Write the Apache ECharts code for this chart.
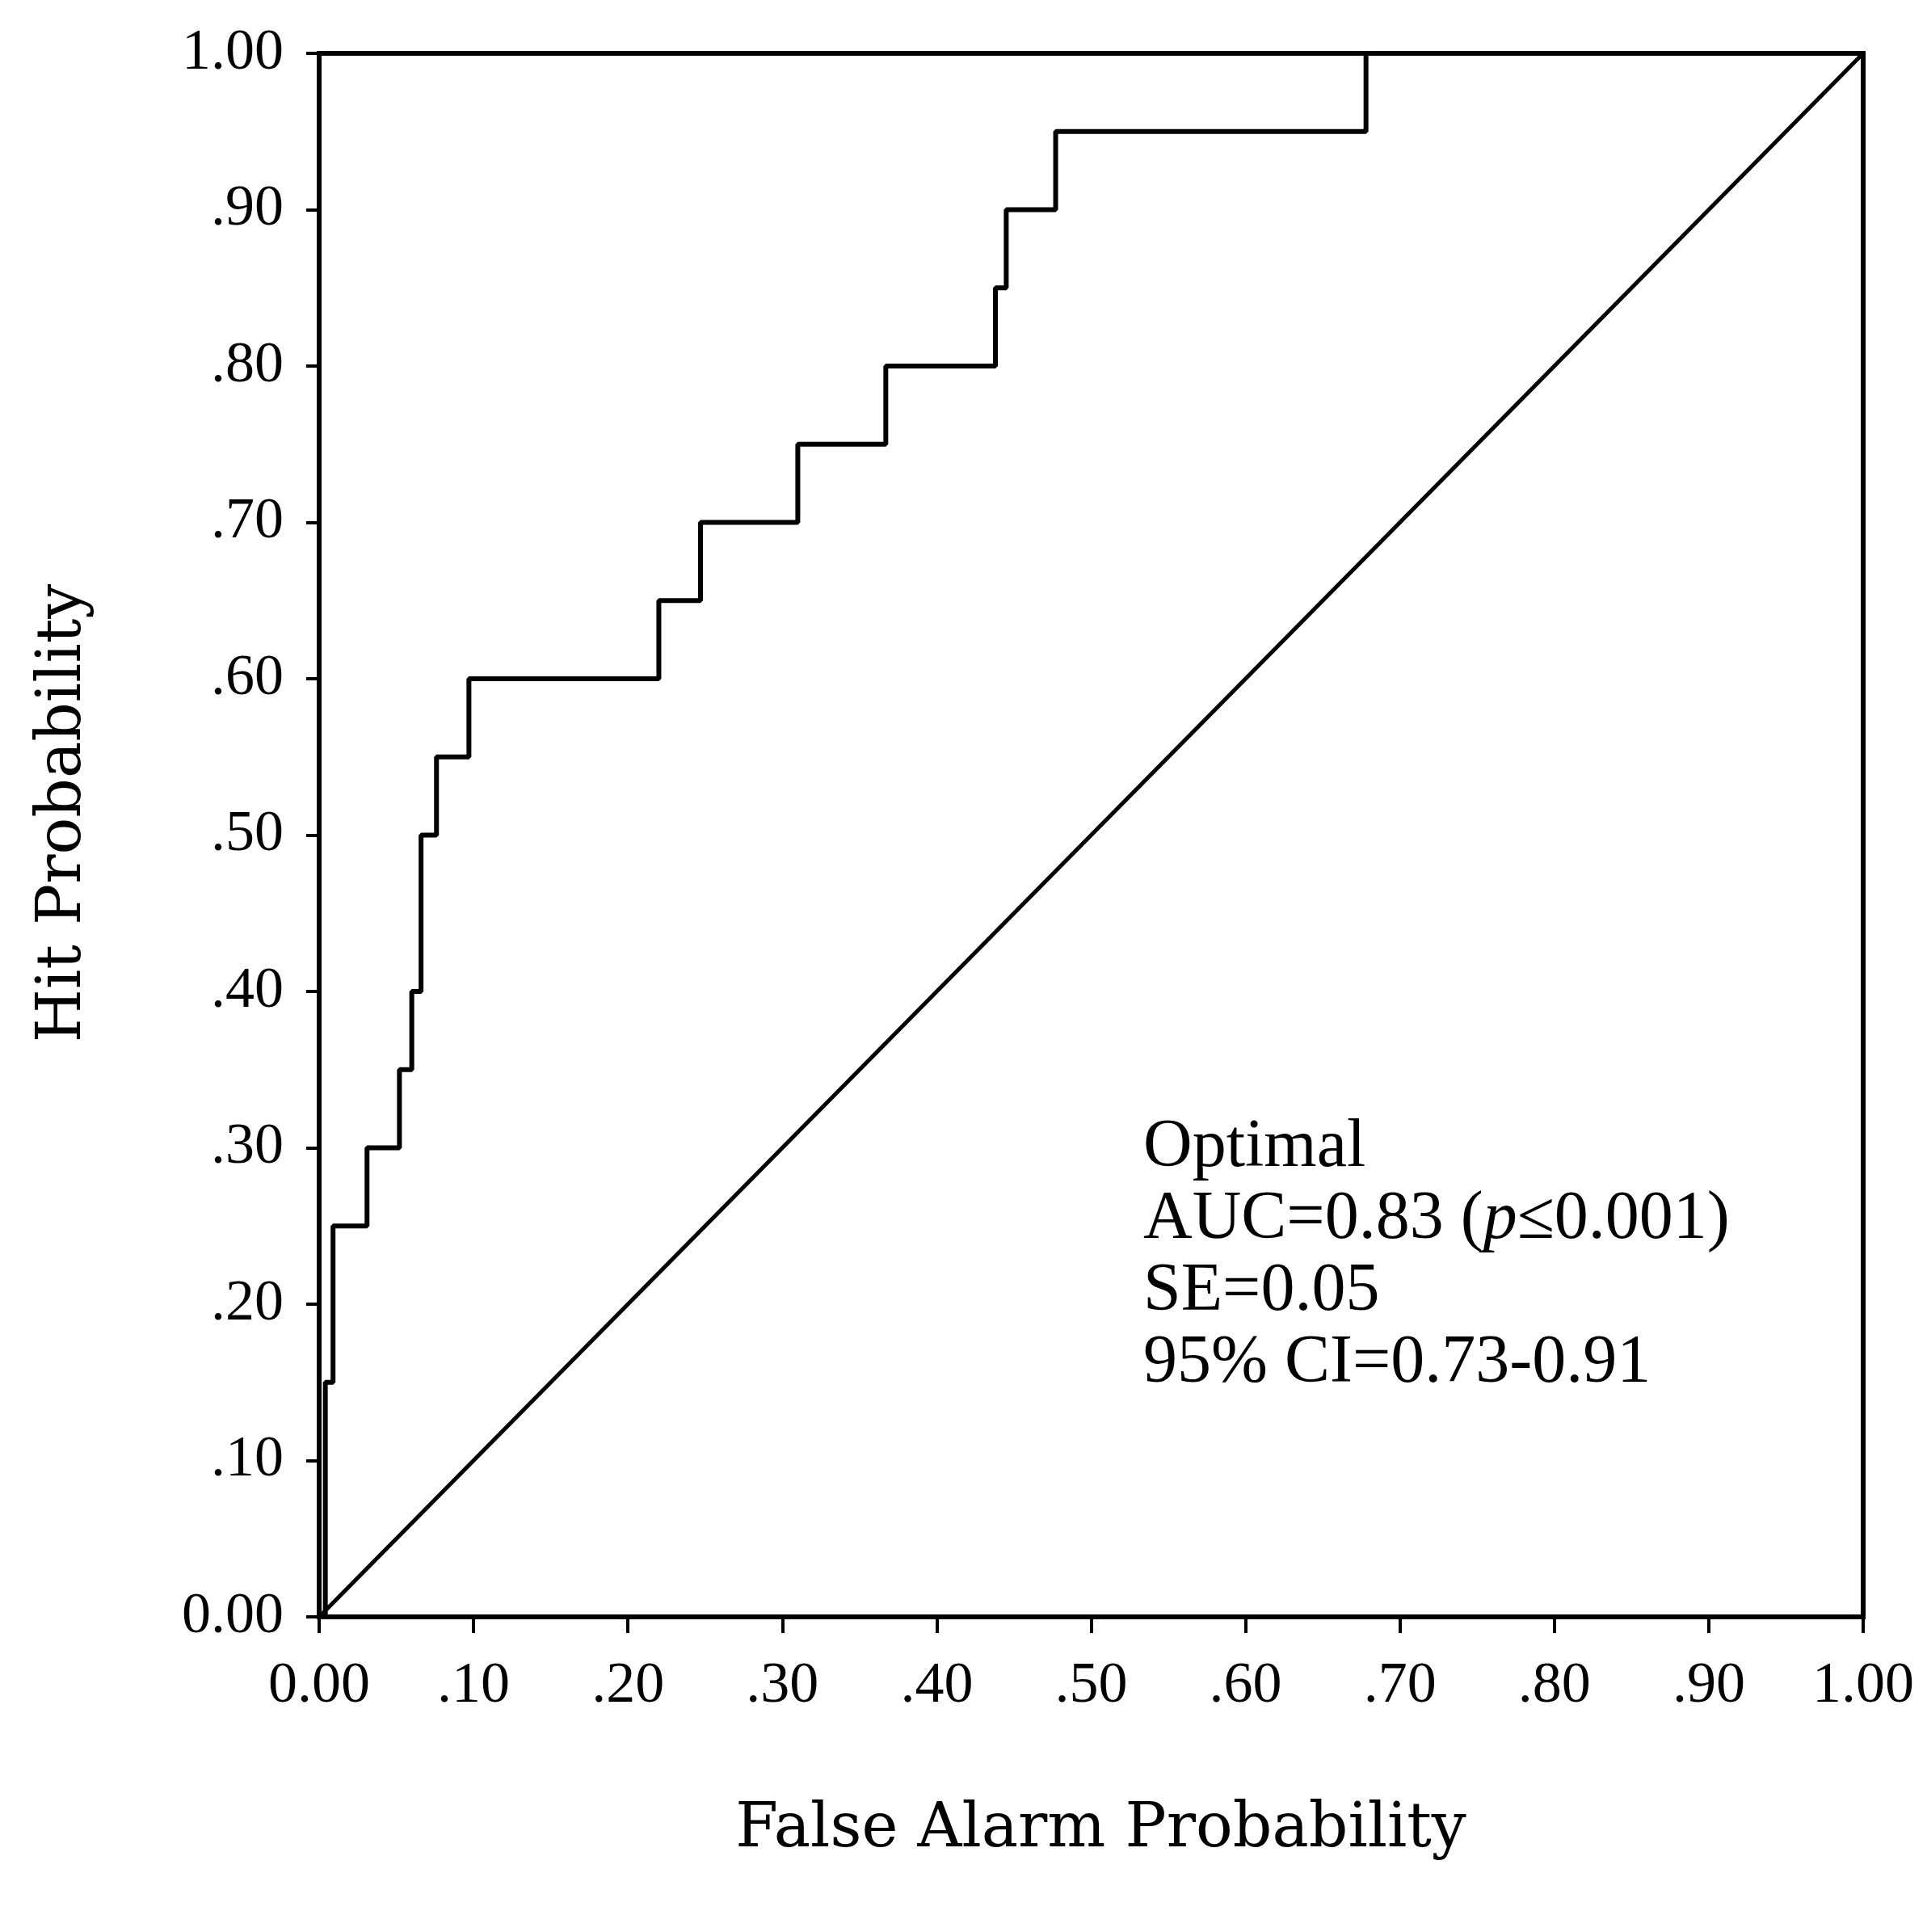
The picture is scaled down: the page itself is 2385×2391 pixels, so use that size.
<!DOCTYPE html>
<html>
<head>
<meta charset="utf-8">
<script src="https://cdn.jsdelivr.net/npm/echarts@6/dist/echarts.min.js"></script>
<style>
    html, body { margin: 0; padding: 0; background: #fff; }
    #roc { width: 2385px; height: 2391px; }
</style>
</head>
<body>
<div id="roc"></div>
<script>
// ROC step points (false alarm, hit)
var falseAlarm = [0, 0.004, 0.009, 0.031, 0.052, 0.060, 0.066, 0.076, 0.097, 0.220, 0.247, 0.310, 0.367, 0.438, 0.445, 0.477, 0.678, 1.0]
var hitRate    = [0, 0.15,  0.25,  0.30,  0.35,  0.40,  0.50,  0.55,  0.60,  0.65,  0.70,  0.75,  0.80,  0.85,  0.90,  0.95,  1.00,  1.0]

// chance line
var chanceX = [0, 1]
var chanceY = [0, 1]

var tickLabels = ['0.00', '.10', '.20', '.30', '.40', '.50', '.60', '.70', '.80', '.90', '1.00']

var statLines = ['Optimal', 'AUC=0.83 ({i|p}≤0.001)', 'SE=0.05', '95% CI=0.73-0.91']

var pairUp = (xs, ys) => {
    var out = []
    for (var i = 0; i < xs.length; i++) {
        out.push([xs[i], ys[i]])
    }
    return out
}

var tickText = (v) => {
    var idx = Math.round(v * 10)
    return tickLabels[idx] || ''
}

var serif = '"Liberation Serif", "Times New Roman", serif'
var titleFont = '"DejaVu Serif", serif'

var applyChart = () => {
    var element = document.querySelector('#roc')
    var chart = echarts.init(element, null, {renderer: 'canvas'})

    var axisBase = {
        type: 'value',
        min: 0,
        max: 1,
        interval: 0.1,
        splitLine: {show: false},
        axisLine: {show: true, onZero: false, lineStyle: {color: '#000', width: 6}},
        nameLocation: 'middle',
        nameTextStyle: {fontFamily: titleFont, fontSize: 76, color: '#000'},
    }

    var option = {
        animation: false,
        backgroundColor: '#fff',
        grid: {
            left: 395,
            top: 66,
            right: 79,
            bottom: 390,
            show: true,
            borderColor: '#000',
            borderWidth: 6,
        },
        xAxis: Object.assign({}, axisBase, {
            name: 'False Alarm Probability',
            nameGap: 226,
            nameTextStyle: {fontFamily: titleFont, fontSize: 76, color: '#000', padding: [0, 0, 0, 24]},
            axisTick: {show: true, length: 20, lineStyle: {color: '#000', width: 4}},
            axisLabel: {
                margin: 50,
                fontFamily: serif,
                fontSize: 72,
                color: '#000',
                formatter: tickText,
            },
        }),
        yAxis: Object.assign({}, axisBase, {
            name: 'Hit Probability',
            nameGap: 278,
            nameTextStyle: {fontFamily: titleFont, fontSize: 76, color: '#000', padding: [0, 0, 0, 54]},
            axisTick: {show: true, length: 16, lineStyle: {color: '#000', width: 4}},
            axisLabel: {
                margin: 44,
                fontFamily: serif,
                fontSize: 72,
                color: '#000',
                formatter: tickText,
            },
        }),
        graphic: [
            {
                type: 'text',
                left: 1415,
                top: 1376,
                style: {
                    text: statLines.join('\n'),
                    fontFamily: serif,
                    fontSize: 84,
                    lineHeight: 89,
                    fill: '#000',
                    rich: {
                        i: {fontFamily: serif, fontSize: 84, lineHeight: 89, fontStyle: 'italic', fill: '#000'},
                    },
                },
            },
        ],
        series: [
            {
                name: 'chance',
                type: 'line',
                data: pairUp(chanceX, chanceY),
                symbol: 'none',
                lineStyle: {color: '#000', width: 5},
            },
            {
                name: 'roc',
                type: 'line',
                step: 'end',
                data: pairUp(falseAlarm, hitRate),
                symbol: 'none',
                lineStyle: {color: '#000', width: 6},
            },
        ],
    }

    chart.setOption(option)
}

applyChart()
</script>
</body>
</html>
